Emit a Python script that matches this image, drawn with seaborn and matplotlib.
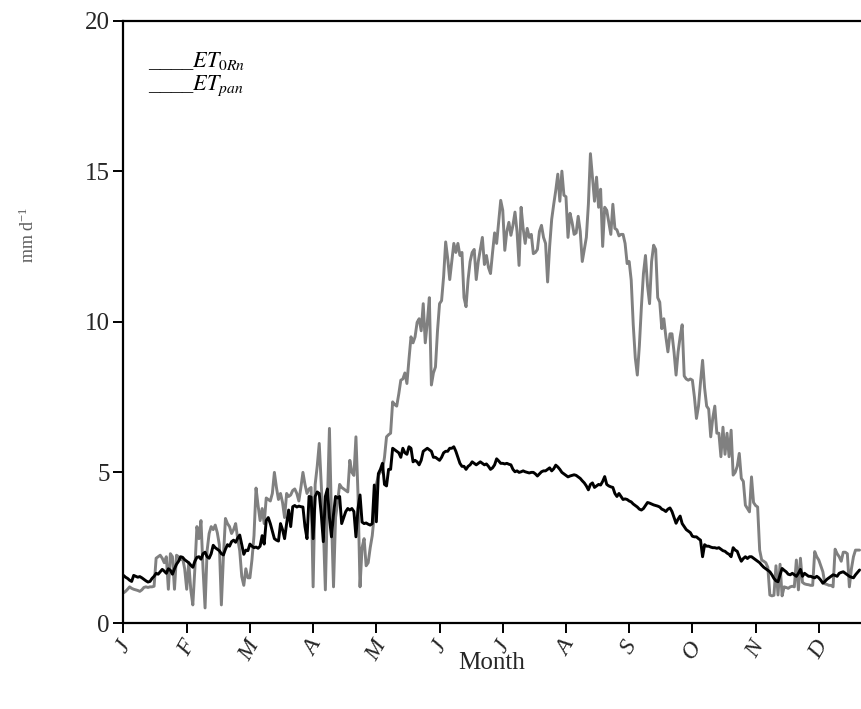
import numpy as np
import pandas as pd
import matplotlib
matplotlib.use("Agg")
import matplotlib.pyplot as plt
import seaborn as sns

# Month initials placed every 31 days along the daily axis
months = ["J", "F", "M", "A", "M", "J", "J", "A", "S", "O", "N", "D"]
y_ticks = [0, 5, 10, 15, 20]

# Daily reference evapotranspiration from net radiation (mm/d)
et0rn = [
    # Jan
    1.00, 1.05, 1.12, 1.20, 1.15, 1.12, 1.10, 1.08, 1.05, 1.10, 1.18, 1.20, 1.18, 1.20, 1.20, 1.22,
    2.15, 2.20, 2.25, 2.15, 2.00, 2.20, 1.12, 2.30, 2.20, 1.12, 2.25, 2.20, 2.10, 2.15, 1.80,
    # Feb
    1.12, 2.00, 1.10, 0.60, 1.80, 3.20, 2.80, 3.40, 1.80, 0.50, 2.40, 2.97, 3.20, 3.10, 3.25, 3.00,
    2.60, 0.60, 2.20, 3.47, 3.30, 3.20, 2.97, 3.10, 3.30, 2.80, 2.40, 1.54, 1.25, 1.80, 1.50,
    # Mar
    1.50, 2.10, 2.90, 4.48, 3.90, 3.40, 3.80, 3.30, 4.15, 4.10, 4.05, 4.30, 5.00, 4.50, 4.10, 4.30,
    4.00, 3.50, 4.30, 4.20, 4.25, 4.40, 4.45, 4.30, 4.05, 4.50, 5.00, 4.60, 4.30, 4.45, 4.50,
    # Apr
    1.20, 4.60, 5.20, 5.96, 4.60, 3.20, 1.10, 4.00, 6.46, 3.50, 1.20, 3.50, 4.00, 4.60, 4.50, 4.45,
    4.40, 4.35, 5.40, 5.00, 4.90, 6.18, 4.30, 1.20, 2.50, 2.80, 1.90, 2.00, 2.50, 2.90, 3.60,
    # May
    4.60, 4.90, 5.00, 5.07, 5.50, 6.18, 6.25, 6.30, 7.34, 7.25, 7.20, 7.60, 8.06, 8.10, 8.30, 7.95,
    8.75, 9.50, 9.30, 9.50, 9.98, 10.10, 9.70, 10.60, 9.30, 9.98, 10.80, 7.90, 8.30, 8.50, 9.70,
    # Jun
    10.60, 10.70, 11.50, 12.65, 12.10, 11.40, 12.00, 12.60, 12.30, 12.60, 12.20, 12.30, 10.80, 10.50,
    11.40, 12.00, 12.30, 12.40, 11.40, 12.00, 12.40, 12.80, 11.90, 12.20, 11.80, 11.60, 12.30, 12.95,
    12.60, 13.30, 14.03,
    # Jul
    13.70, 12.37, 13.00, 13.30, 12.87, 13.20, 13.64, 13.00, 11.87, 13.80, 13.10, 12.60, 13.10, 12.80,
    12.90, 12.26, 12.30, 12.40, 13.00, 13.20, 12.80, 12.60, 11.32, 12.50, 13.40, 13.90, 14.36, 14.90,
    14.00, 15.00, 14.20,
    # Aug
    14.15, 12.80, 13.60, 13.30, 12.90, 12.95, 13.50, 13.00, 12.00, 12.40, 12.80, 13.90, 15.58, 14.80,
    14.00, 14.80, 13.80, 14.40, 12.50, 13.80, 13.70, 13.30, 12.90, 13.90, 13.10, 13.05, 12.85, 12.90,
    12.90, 12.60, 11.93,
    # Sep
    12.00, 11.38, 9.90, 8.80, 8.23, 9.20, 10.50, 11.60, 12.20, 11.20, 10.60, 12.00, 12.54, 12.40,
    10.80, 10.65, 9.77, 10.10, 9.50, 9.00, 9.60, 9.60, 9.00, 8.23, 9.00, 9.50, 9.90, 8.20, 8.10,
    8.06, 8.10,
    # Oct
    8.06, 7.50, 6.79, 7.20, 8.00, 8.72, 7.80, 7.20, 7.10, 6.18, 6.80, 7.20, 6.30, 6.30, 5.52, 6.50,
    5.60, 6.30, 5.52, 6.40, 4.91, 5.00, 5.20, 5.63, 4.80, 4.70, 3.91, 3.80, 3.69, 4.85, 4.00,
    # Nov
    3.90, 3.85, 2.42, 2.09, 2.05, 2.00, 1.85, 0.93, 0.90, 0.92, 1.90, 0.93, 1.95, 0.90, 1.20, 1.18,
    1.15, 1.20, 1.22, 1.20, 2.09, 1.10, 2.15, 1.35, 1.30, 1.28, 1.27, 1.25, 1.25, 2.37, 2.20,
    # Dec
    2.09, 1.90, 1.70, 1.30, 1.28, 1.25, 1.25, 1.20, 2.45, 2.30, 2.20, 2.05, 2.35, 2.35, 2.30, 1.20,
    1.80, 2.20, 2.42, 2.42, 2.42,
]

# Daily pan evaporation (mm/d)
etpan = [
    # Jan
    1.58, 1.52, 1.48, 1.42, 1.38, 1.58, 1.55, 1.52, 1.54, 1.50, 1.45, 1.40, 1.36, 1.38, 1.48, 1.55,
    1.65, 1.62, 1.70, 1.78, 1.72, 1.65, 1.80, 1.75, 1.62, 1.80, 1.95, 2.05, 2.20, 2.18, 2.10,
    # Feb
    2.05, 2.00, 1.92, 1.85, 2.05, 2.18, 2.20, 2.12, 2.30, 2.35, 2.20, 2.15, 2.30, 2.58, 2.50, 2.45,
    2.40, 2.30, 2.26, 2.45, 2.60, 2.55, 2.70, 2.75, 2.68, 2.82, 2.92, 2.60, 2.28, 2.42, 2.40,
    # Mar
    2.62, 2.55, 2.50, 2.52, 2.48, 2.55, 2.90, 2.62, 3.40, 3.50, 3.30, 3.05, 2.80, 2.75, 2.72, 3.30,
    3.10, 2.80, 3.30, 3.75, 3.20, 3.86, 3.90, 3.85, 3.88, 3.86, 3.85, 3.20, 2.80, 4.20, 4.18,
    # Apr
    2.80, 4.20, 4.35, 4.30, 3.60, 2.70, 4.20, 4.45, 3.50, 2.86, 3.60, 4.20, 4.15, 4.20, 3.30, 3.50,
    3.70, 3.80, 3.75, 3.80, 3.70, 2.86, 3.80, 4.25, 3.35, 3.30, 3.32, 3.28, 3.25, 3.30, 4.58,
    # May
    3.36, 4.96, 5.10, 5.30, 4.60, 4.55, 5.10, 5.10, 5.80, 5.75, 5.70, 5.65, 5.50, 5.80, 5.65, 5.60,
    5.85, 5.80, 5.35, 5.40, 5.35, 5.25, 5.40, 5.70, 5.75, 5.80, 5.75, 5.70, 5.50, 5.50, 5.45,
    # Jun
    5.40, 5.50, 5.65, 5.70, 5.70, 5.80, 5.80, 5.85, 5.70, 5.50, 5.30, 5.20, 5.20, 5.10, 5.20, 5.25,
    5.35, 5.30, 5.25, 5.30, 5.35, 5.30, 5.25, 5.28, 5.20, 5.10, 5.15, 5.25, 5.45, 5.38, 5.30,
    # Jul
    5.30, 5.28, 5.30, 5.27, 5.25, 5.10, 5.02, 5.05, 5.00, 5.02, 5.05, 5.02, 5.00, 4.98, 5.00, 5.00,
    4.95, 4.88, 4.95, 5.02, 5.05, 5.05, 5.10, 5.15, 5.05, 5.12, 5.24, 5.18, 5.10, 5.00, 4.95,
    # Aug
    4.90, 4.85, 4.88, 4.90, 4.92, 4.90, 4.85, 4.80, 4.72, 4.65, 4.55, 4.42, 4.60, 4.65, 4.50, 4.55,
    4.60, 4.58, 4.70, 4.86, 4.60, 4.55, 4.52, 4.50, 4.30, 4.20, 4.30, 4.20, 4.10, 4.12, 4.10,
    # Sep
    4.05, 4.02, 3.95, 3.90, 3.85, 3.78, 3.75, 3.80, 3.90, 4.00, 3.98, 3.95, 3.92, 3.90, 3.88, 3.85,
    3.78, 3.75, 3.70, 3.78, 3.82, 3.70, 3.50, 3.31, 3.45, 3.55, 3.30, 3.20, 3.10, 3.05, 3.00,
    # Oct
    2.88, 2.86, 2.86, 2.80, 2.75, 2.20, 2.60, 2.55, 2.55, 2.52, 2.50, 2.50, 2.48, 2.50, 2.45, 2.40,
    2.38, 2.32, 2.28, 2.20, 2.50, 2.42, 2.38, 2.20, 2.05, 2.14, 2.20, 2.14, 2.20, 2.20, 2.15,
    # Nov
    2.10, 2.05, 2.00, 1.92, 1.85, 1.80, 1.75, 1.70, 1.60, 1.48, 1.40, 1.37, 1.60, 1.81, 1.75, 1.70,
    1.62, 1.60, 1.65, 1.60, 1.55, 1.65, 1.78, 1.55, 1.65, 1.60, 1.55, 1.55, 1.52, 1.50, 1.55,
    # Dec
    1.50, 1.42, 1.32, 1.38, 1.45, 1.50, 1.55, 1.60, 1.58, 1.55, 1.65, 1.68, 1.70, 1.65, 1.60, 1.55,
    1.52, 1.50, 1.60, 1.68, 1.76,
]

sns.set_style("ticks")
plt.rcParams["font.family"] = ["Liberation Serif", "DejaVu Serif"]
plt.rcParams["mathtext.fontset"] = "stix"

n = len(et0rn)
day = np.arange(n)
df = pd.DataFrame({
    "day": np.concatenate([day, np.arange(len(etpan))]),
    "value": et0rn + etpan,
    "series": ["ET0Rn"] * n + ["ETpan"] * len(etpan),
})

fig = plt.figure(figsize=(8.61, 7.09), dpi=100)
ax = fig.add_axes([123.5 / 861, 86 / 709, 737.5 / 861, 602.5 / 709])

sns.lineplot(
    data=df, x="day", y="value", hue="series",
    hue_order=["ET0Rn", "ETpan"],
    palette={"ET0Rn": "#808080", "ETpan": "#000000"},
    linewidth=2.1, estimator=None, sort=False, legend=False, ax=ax,
)

ax.set_xlim(0, 361.7)
ax.set_ylim(0, 20)
ax.set_xticks(np.arange(len(months)) * 31)
ax.set_xticklabels(months, rotation=60, fontstyle="italic", fontsize=17,
                   ha="center", va="top")
ax.set_yticks(y_ticks)
ax.set_yticklabels([str(v) for v in y_ticks], fontsize=18)
ax.tick_params(axis="both", direction="out", length=7, width=1.4, color="black", pad=3)
ax.set_xlabel("")
ax.set_ylabel("")

for side in ["left", "bottom", "top"]:
    ax.spines[side].set_visible(True)
    ax.spines[side].set_color("black")
    ax.spines[side].set_linewidth(1.6)
ax.spines["right"].set_visible(False)

# Text-style key in the upper-left corner
key_kw = dict(fontsize=16, color="black", va="baseline", ha="left", transform=ax.transAxes)
ax.text(0.033, 0.923, r"____$ET_{0Rn}$", **key_kw)
ax.text(0.033, 0.885, r"____$ET_{pan}$", **key_kw)

fig.text(492 / 861, 1 - 663 / 709, "Month", ha="center", va="center", fontsize=18)
fig.text(28 / 861, 1 - 235 / 709, r"mm d$^{\mathregular{-1}}$", rotation=90,
         ha="center", va="center", fontsize=13, color="#595959")

fig.savefig("out.png", dpi=100)
